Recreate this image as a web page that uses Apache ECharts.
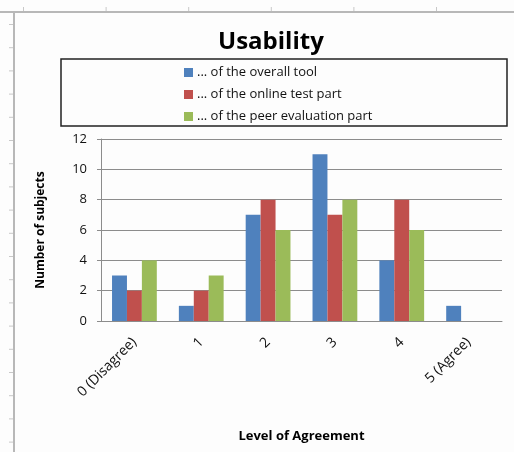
<!DOCTYPE html>
<html>
	<head>
		<meta charset="UTF-8">
		<title>Usability</title>
		<script src="https://cdn.jsdelivr.net/npm/echarts@6/dist/echarts.min.js"></script>
		<style type="text/css">
			* {
				margin: 0px;
				padding: 0px;
			}
			body {
				background: #fdfdfd;
			}
			#container {
				width: 514px;
				height: 452px;
			}
		</style>
	</head>
	<body>
		<div id="container"></div>
		<script>
			// level of agreement (x axis)
			var categories = ['0 (Disagree)', '1', '2', '3', '4', '5 (Agree)'];
			// number of subjects per series
			var overallTool = [3, 1, 7, 11, 4, 1];
			var onlineTest = [2, 2, 8, 7, 8, 0];
			var peerEval = [4, 3, 6, 8, 6, 0];
			var seriesNames = ['... of the overall tool', '... of the online test part', '... of the peer evaluation part'];
			var colors = ['#4F81BD', '#C0504D', '#9BBB59'];

			var font = 'Open Sans';

			// frame of the sheet + little ruler ticks
			var deco = [];
			deco.push({ type: 'line', silent: true, shape: { x1: 0, y1: 12, x2: 514, y2: 12 }, style: { stroke: '#b8b8b8', lineWidth: 2 } });
			deco.push({ type: 'line', silent: true, shape: { x1: 14, y1: 12, x2: 14, y2: 452 }, style: { stroke: '#b8b8b8', lineWidth: 2 } });
			for (var y = 24.5; y < 452; y += 23.2) {
				deco.push({ type: 'line', silent: true, shape: { x1: 9, y1: y, x2: 13, y2: y }, style: { stroke: '#c8c8c8', lineWidth: 1 } });
			}
			for (var x = 23.5; x < 514; x += 82.6) {
				deco.push({ type: 'line', silent: true, shape: { x1: x, y1: 7, x2: x, y2: 11 }, style: { stroke: '#c8c8c8', lineWidth: 1 } });
			}
			// legend box
			deco.push({ type: 'rect', silent: true, shape: { x: 61, y: 59, width: 446, height: 67 }, style: { fill: 'none', stroke: '#222', lineWidth: 1.5 } });

			var seriesData = [overallTool, onlineTest, peerEval];
			var series = [];
			for (var i = 0; i < seriesData.length; i++) {
				series.push({
					name: seriesNames[i],
					type: 'bar',
					data: seriesData[i],
					barGap: '0%',
					barCategoryGap: '33%',
					itemStyle: { color: colors[i] }
				});
			}

			var myChart = echarts.init(document.getElementById('container'));
			myChart.setOption({
				animation: false,
				graphic: deco,
				title: {
					text: 'Usability',
					left: 213,
					top: 25,
					textStyle: { fontFamily: font, fontSize: 24, fontWeight: 'bold', color: '#000' }
				},
				legend: {
					orient: 'vertical',
					left: 179,
					top: 61,
					itemWidth: 9,
					itemHeight: 9,
					itemGap: 9,
					icon: 'rect',
					data: seriesNames,
					textStyle: { fontFamily: font, fontSize: 13, color: '#111', padding: [0, 0, 0, -1] }
				},
				grid: {
					left: 101,
					right: 12,
					top: 139,
					bottom: 131
				},
				xAxis: {
					type: 'category',
					data: categories,
					name: 'Level of Agreement',
					nameLocation: 'middle',
					nameGap: 109,
					nameTextStyle: { fontFamily: font, fontSize: 13, fontWeight: 'bold', color: '#000' },
					axisLine: { lineStyle: { color: '#8c8c8c', width: 1 } },
					axisTick: { show: false },
					axisLabel: { interval: 0, rotate: 45, margin: 19, fontFamily: font, fontSize: 14, color: '#111' }
				},
				yAxis: {
					type: 'value',
					min: 0,
					max: 12,
					interval: 2,
					name: 'Number of subjects',
					nameLocation: 'middle',
					nameGap: 54,
					nameTextStyle: { fontFamily: font, fontSize: 12, fontWeight: 'bold', color: '#000' },
					axisLine: { show: true, lineStyle: { color: '#8c8c8c', width: 1 } },
					axisTick: { show: true, length: 4, lineStyle: { color: '#8c8c8c' } },
					axisLabel: { margin: 14, fontFamily: font, fontSize: 13, color: '#111' },
					splitLine: { lineStyle: { color: '#8c8c8c', width: 1 } }
				},
				series: series
			});
		</script>
	</body>
</html>
